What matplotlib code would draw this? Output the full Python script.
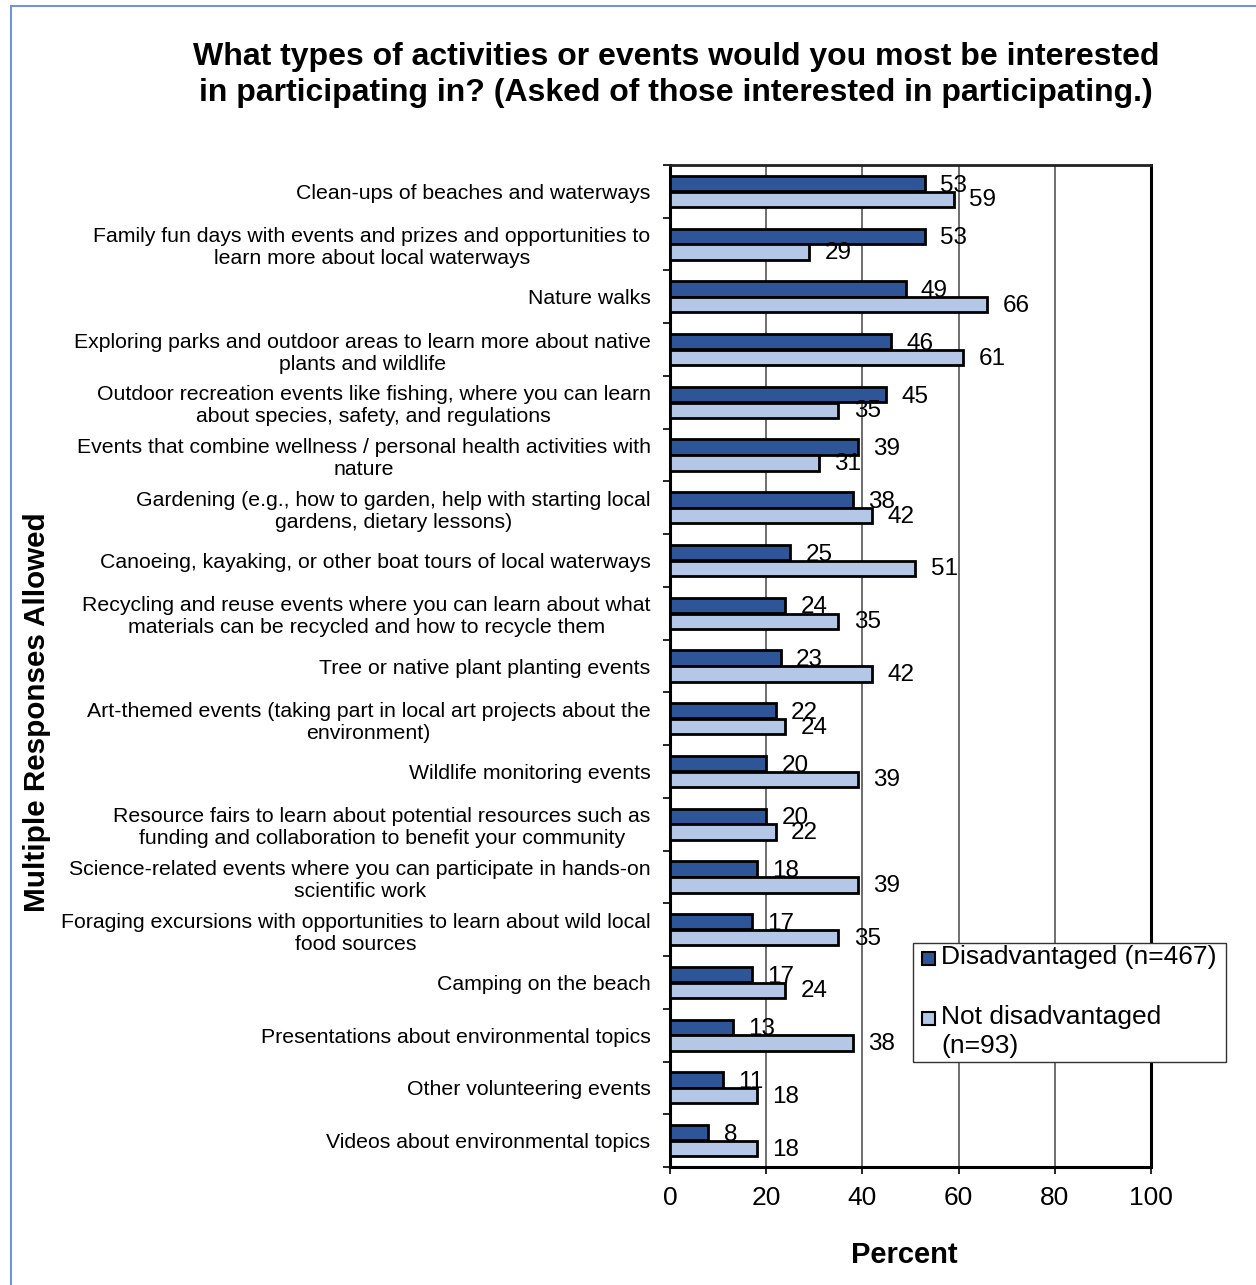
import numpy as np
import matplotlib
matplotlib.use("Agg")
import matplotlib.pyplot as plt
from matplotlib.patches import Rectangle

plt.rcParams["font.family"] = ["Liberation Sans", "DejaVu Sans"]

# Veri (yukaridan asagiya)
categories = [
    "Clean-ups of beaches and waterways",
    "Family fun days with events and prizes and opportunities to\nlearn more about local waterways",
    "Nature walks",
    "Exploring parks and outdoor areas to learn more about native\nplants and wildlife",
    "Outdoor recreation events like fishing, where you can learn\nabout species, safety, and regulations",
    "Events that combine wellness / personal health activities with\nnature",
    "Gardening (e.g., how to garden, help with starting local\ngardens, dietary lessons)",
    "Canoeing, kayaking, or other boat tours of local waterways",
    "Recycling and reuse events where you can learn about what\nmaterials can be recycled and how to recycle them",
    "Tree or native plant planting events",
    "Art-themed events (taking part in local art projects about the\nenvironment)",
    "Wildlife monitoring events",
    "Resource fairs to learn about potential resources such as\nfunding and collaboration to benefit your community",
    "Science-related events where you can participate in hands-on\nscientific work",
    "Foraging excursions with opportunities to learn about wild local\nfood sources",
    "Camping on the beach",
    "Presentations about environmental topics",
    "Other volunteering events",
    "Videos about environmental topics",
]
disadv = [53, 53, 49, 46, 45, 39, 38, 25, 24, 23, 22, 20, 20, 18, 17, 17, 13, 11, 8]
not_disadv = [59, 29, 66, 61, 35, 31, 42, 51, 35, 42, 24, 39, 22, 39, 35, 24, 38, 18, 18]
x_ticks = [0, 20, 40, 60, 80, 100]

c_dark = "#2E5597"
c_light = "#B4C7E7"

W, H = 1256, 1285
fig = plt.figure(figsize=(W / 100, H / 100), dpi=100)
ax = fig.add_axes([670 / W, 1 - 1167 / H, (1151 - 670) / W, (1167 - 165) / H])

y = np.arange(len(categories))
bh = 0.29
ax.barh(y - 0.15, disadv, height=bh, color=c_dark, edgecolor="black", linewidth=2, zorder=3)
ax.barh(y + 0.15, not_disadv, height=bh, color=c_light, edgecolor="black", linewidth=2, zorder=3)

for i in range(len(categories)):
    ax.annotate(str(disadv[i]), (disadv[i], y[i] - 0.11), xytext=(11, 0),
                textcoords="offset points", va="center", ha="left", fontsize=17.5, zorder=4)
    ax.annotate(str(not_disadv[i]), (not_disadv[i], y[i] + 0.17), xytext=(11, 0),
                textcoords="offset points", va="center", ha="left", fontsize=17.5, zorder=4)

ax.set_xlim(0, 100)
ax.set_ylim(len(categories) - 0.5, -0.5)
ax.set_xticks(x_ticks)
ax.set_xticklabels([str(t) for t in x_ticks], fontsize=19)
ax.tick_params(axis="x", length=5, width=1.2, pad=9)

# kategori sinirlarinda tick, ortada etiket
ax.set_yticks(np.arange(-0.5, len(categories) + 0.5, 1))
ax.set_yticklabels([])
ax.tick_params(axis="y", which="major", length=5, width=1.2)
ax.set_yticks(y, minor=True)
ax.set_yticklabels(categories, minor=True, fontsize=15.3, multialignment="center", linespacing=1.2)
ax.tick_params(axis="y", which="minor", length=0, pad=14)

for gx in [20, 40, 60, 80]:
    ax.axvline(gx, color="#555555", linewidth=1.2, zorder=1)

for s in ["left", "bottom", "right"]:
    ax.spines[s].set_linewidth(2.2)
ax.spines["top"].set_linewidth(2)
ax.spines["top"].set_color("#222222")

fig.text(676 / W, 1 - 75 / H,
         "What types of activities or events would you most be interested\nin participating in? (Asked of those interested in participating.)",
         ha="center", va="center", fontsize=23, fontweight="bold", linespacing=1.27)
fig.text(904 / W, 1 - 1255 / H, "Percent", ha="center", va="center", fontsize=21, fontweight="bold")
fig.text(37 / W, 1 - 712 / H, "Multiple Responses Allowed", ha="center", va="center",
         rotation=90, fontsize=21.3, fontweight="bold")

# legend kutusu
fig.patches.append(Rectangle((913 / W, 1 - 1062 / H), (1226 - 913) / W, (1062 - 943) / H,
                             transform=fig.transFigure, facecolor="white", edgecolor="#333333",
                             linewidth=1, zorder=5))
leg_items = [(c_dark, "Disadvantaged (n=467)", 958), (c_light, "Not disadvantaged\n(n=93)", 1018)]
for col, lab, yy in leg_items:
    fig.patches.append(Rectangle((922 / W, 1 - (yy + 7) / H), 13 / W, 13 / H,
                                 transform=fig.transFigure, facecolor=col, edgecolor="black",
                                 linewidth=1.5, zorder=6))
    fig.text(941 / W, 1 - (yy - 13) / H, lab, ha="left", va="top", fontsize=19,
             linespacing=1.25, zorder=7)

# dis cerceve
fig.patches.append(Rectangle((11 / W, -0.05), 1.2, 1 - 6 / H + 0.05, transform=fig.transFigure,
                             facecolor="none", edgecolor="#7094D8", linewidth=1.5))

fig.savefig("out.png", dpi=100)
